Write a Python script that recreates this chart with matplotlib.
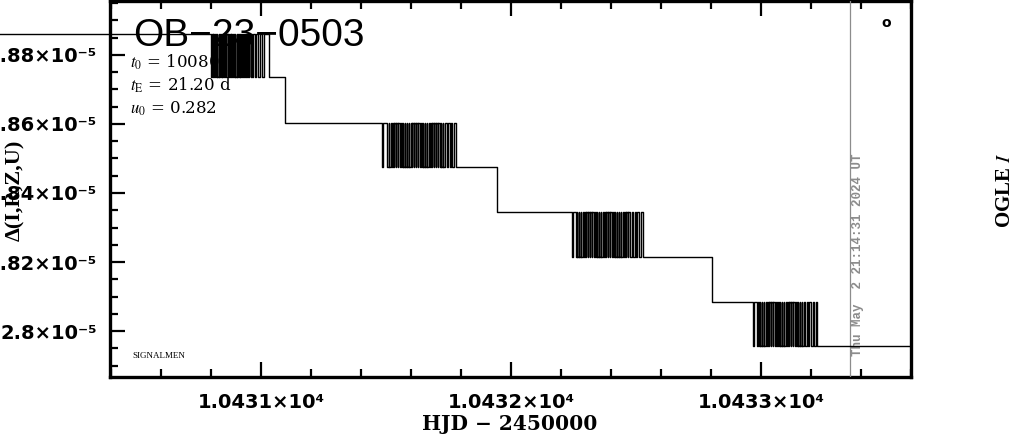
import matplotlib
matplotlib.use("Agg")
import matplotlib.pyplot as plt
from matplotlib.ticker import MultipleLocator, FixedLocator, FixedFormatter

plt.rcParams['mathtext.fontset'] = 'stix'

# quantised flux levels (the light curve flips between neighbours)
levels = [1.8860e-5, 1.8735e-5, 1.8603e-5, 1.8476e-5,
          1.83455e-5, 1.82144e-5, 1.80846e-5, 1.79567e-5]

c1_hjd = [10430.800, 10430.803, 10430.807, 10430.810, 10430.813, 10430.817, 10430.820, 10430.823, 10430.826, 10430.830,
          10430.833, 10430.836, 10430.840, 10430.843, 10430.846, 10430.849, 10430.853, 10430.856, 10430.859, 10430.862,
          10430.866, 10430.869, 10430.872, 10430.876, 10430.879, 10430.882, 10430.885, 10430.889, 10430.892, 10430.895,
          10430.898, 10430.902, 10430.905, 10430.908, 10430.912, 10430.915, 10430.918, 10430.921, 10430.925, 10430.928,
          10430.931, 10430.935, 10430.938, 10430.941, 10430.944, 10430.948, 10430.951, 10430.954, 10430.958, 10430.961,
          10430.965, 10430.969, 10430.974, 10430.980, 10430.987, 10430.995, 10431.004, 10431.014, 10431.032]
c1_lvl = [1, 0, 1, 0, 1, 0, 1, 0, 1, 0,
          1, 0, 1, 0, 1, 0, 1, 0, 1, 0,
          1, 0, 1, 0, 1, 0, 1, 0, 1, 0,
          1, 0, 1, 0, 1, 0, 1, 0, 1, 0,
          1, 0, 1, 0, 1, 0, 1, 0, 1, 0,
          1, 0, 1, 0, 1, 0, 1, 0, 1]

c2_hjd = [10431.484, 10431.487, 10431.506, 10431.510, 10431.514, 10431.518, 10431.522, 10431.526, 10431.530, 10431.534,
          10431.538, 10431.542, 10431.546, 10431.550, 10431.554, 10431.558, 10431.562, 10431.566, 10431.570, 10431.574,
          10431.578, 10431.582, 10431.586, 10431.590, 10431.594, 10431.598, 10431.602, 10431.606, 10431.610, 10431.614,
          10431.618, 10431.622, 10431.626, 10431.630, 10431.634, 10431.638, 10431.642, 10431.646, 10431.650, 10431.654,
          10431.658, 10431.662, 10431.666, 10431.670, 10431.674, 10431.678, 10431.682, 10431.686, 10431.690, 10431.694,
          10431.698, 10431.702, 10431.706, 10431.710, 10431.714, 10431.718, 10431.722, 10431.726, 10431.730, 10431.736,
          10431.742, 10431.748, 10431.754, 10431.760, 10431.766, 10431.772, 10431.778]
c2_lvl = [3, 2, 3, 2, 3, 2, 3, 2, 3, 2,
          3, 2, 3, 2, 3, 2, 3, 2, 3, 2,
          3, 2, 3, 2, 3, 2, 3, 2, 3, 2,
          3, 2, 3, 2, 3, 2, 3, 2, 3, 2,
          3, 2, 3, 2, 3, 2, 3, 2, 3, 2,
          3, 2, 3, 2, 3, 2, 3, 2, 3, 2,
          3, 2, 3, 2, 3, 2, 3]

c3_hjd = [10432.244, 10432.247, 10432.258, 10432.262, 10432.266, 10432.270, 10432.274, 10432.278, 10432.282, 10432.286,
          10432.290, 10432.294, 10432.298, 10432.302, 10432.306, 10432.310, 10432.314, 10432.318, 10432.322, 10432.326,
          10432.330, 10432.334, 10432.338, 10432.342, 10432.346, 10432.350, 10432.354, 10432.358, 10432.362, 10432.366,
          10432.370, 10432.374, 10432.378, 10432.382, 10432.386, 10432.390, 10432.394, 10432.398, 10432.402, 10432.406,
          10432.410, 10432.414, 10432.418, 10432.422, 10432.426, 10432.430, 10432.434, 10432.438, 10432.442, 10432.446,
          10432.450, 10432.454, 10432.458, 10432.462, 10432.466, 10432.470, 10432.476, 10432.482, 10432.488, 10432.494,
          10432.500, 10432.506, 10432.512, 10432.518, 10432.526]
c3_lvl = [5, 4, 5, 4, 5, 4, 5, 4, 5, 4,
          5, 4, 5, 4, 5, 4, 5, 4, 5, 4,
          5, 4, 5, 4, 5, 4, 5, 4, 5, 4,
          5, 4, 5, 4, 5, 4, 5, 4, 5, 4,
          5, 4, 5, 4, 5, 4, 5, 4, 5, 4,
          5, 4, 5, 4, 5, 4, 5, 4, 5, 4,
          5, 4, 5, 4, 5]

c4_hjd = [10432.968, 10432.971, 10432.982, 10432.986, 10432.990, 10432.994, 10432.998, 10433.002, 10433.006, 10433.010,
          10433.014, 10433.018, 10433.022, 10433.026, 10433.030, 10433.034, 10433.038, 10433.042, 10433.046, 10433.050,
          10433.054, 10433.058, 10433.062, 10433.066, 10433.070, 10433.074, 10433.078, 10433.082, 10433.086, 10433.090,
          10433.094, 10433.098, 10433.102, 10433.106, 10433.110, 10433.114, 10433.118, 10433.122, 10433.126, 10433.130,
          10433.134, 10433.138, 10433.142, 10433.146, 10433.150, 10433.154, 10433.158, 10433.162, 10433.166, 10433.170,
          10433.176, 10433.182, 10433.188, 10433.194, 10433.200, 10433.206, 10433.212, 10433.218, 10433.224]
c4_lvl = [7, 6, 7, 6, 7, 6, 7, 6, 7, 6,
          7, 6, 7, 6, 7, 6, 7, 6, 7, 6,
          7, 6, 7, 6, 7, 6, 7, 6, 7, 6,
          7, 6, 7, 6, 7, 6, 7, 6, 7, 6,
          7, 6, 7, 6, 7, 6, 7, 6, 7, 6,
          7, 6, 7, 6, 7, 6, 7, 6, 7]

hjd = [10429.95] + c1_hjd + [10431.096] + c2_hjd + [10431.944] + c3_hjd + \
      [10432.804] + c4_hjd + [10433.600]
lvl = [0] + c1_lvl + [2] + c2_lvl + [4] + c3_lvl + [6] + c4_lvl + [7]
flux = [levels[i] for i in lvl]

xticks = [10431, 10432, 10433]
xticklabels = ['1.0431×10⁴', '1.0432×10⁴', '1.0433×10⁴']
yticks = [1.80e-5, 1.82e-5, 1.84e-5, 1.86e-5, 1.88e-5]
yticklabels = ['2.8×10⁻⁵', '1.82×10⁻⁵', '1.84×10⁻⁵', '1.86×10⁻⁵', '1.88×10⁻⁵']

now_hjd = 10433.356
stamp = 'Thu May  2 21:14:31 2024 UT'
params = [r'$t_0$ = 10080', r'$t_{\rm E}$ = 21.20 d', r'$u_0$ = 0.282']

fig = plt.figure(figsize=(10.14, 4.34), dpi=100)
ax = fig.add_axes([110/1014, 1 - 376.7/434, 801/1014, 375.5/434])

ax.plot(hjd, flux, drawstyle='steps-post', color='black', lw=1.0,
        clip_on=False, zorder=5)
ax.axvline(now_hjd, color='#8c8c8c', lw=0.9, zorder=3)

ax.set_xlim(10430.396, 10433.600)
ax.set_ylim(1.78681e-5, 1.89553e-5)

ax.xaxis.set_major_locator(FixedLocator(xticks))
ax.xaxis.set_major_formatter(FixedFormatter(xticklabels))
ax.xaxis.set_minor_locator(MultipleLocator(0.2))
ax.yaxis.set_major_locator(FixedLocator(yticks))
ax.yaxis.set_major_formatter(FixedFormatter(yticklabels))
ax.yaxis.set_minor_locator(MultipleLocator(0.005e-5))

ax.tick_params(which='both', direction='in', top=True, right=False,
               width=1.6, colors='black')
ax.tick_params(which='major', length=11)
ax.tick_params(which='minor', length=6)
ax.tick_params(axis='y', pad=9)
ax.tick_params(axis='x', pad=12)
for lab in ax.get_xticklabels() + ax.get_yticklabels():
    lab.set_fontfamily('DejaVu Sans')
    lab.set_fontweight('bold')
    lab.set_fontsize(14)
for s in ax.spines.values():
    s.set_linewidth(2.4)

ax.text(0.0287, 0.880, 'OB−23−0503', transform=ax.transAxes, fontsize=28,
        family='Liberation Sans', va='baseline', zorder=2)
for i, p in enumerate(params):
    ax.text(0.025, 0.822 - i * 0.061, p, transform=ax.transAxes, fontsize=12,
            family='DejaVu Serif', va='baseline', zorder=2)
ax.text(0.028, 0.055, 'SIGNALMEN', transform=ax.transAxes, fontsize=6.5,
        family='Liberation Serif', va='center')
ax.text(0.969, 0.942, 'o', transform=ax.transAxes, fontsize=10,
        fontweight='bold', ha='center', va='center')
ax.text(now_hjd + 0.03, 1.7928e-5, stamp, rotation=90, color='#8c8c8c',
        family='Liberation Mono', fontweight='bold', fontsize=9,
        ha='center', va='bottom')

fig.text(510/1014, 1 - 424/434, 'HJD − 2450000', family='DejaVu Serif',
         fontweight='bold', fontsize=14.5, ha='center', va='center')
fig.text(15/1014, 1 - 190/434, 'Δ(I,R,Z,U)', rotation=90, family='Liberation Serif',
         fontweight='bold', fontsize=16, ha='center', va='center')
fig.text(1005/1014, 1 - 190/434, r'OGLE $I$', rotation=90, family='Liberation Serif',
         fontweight='bold', fontsize=15, ha='center', va='center')

fig.savefig('out.png', dpi=100)
